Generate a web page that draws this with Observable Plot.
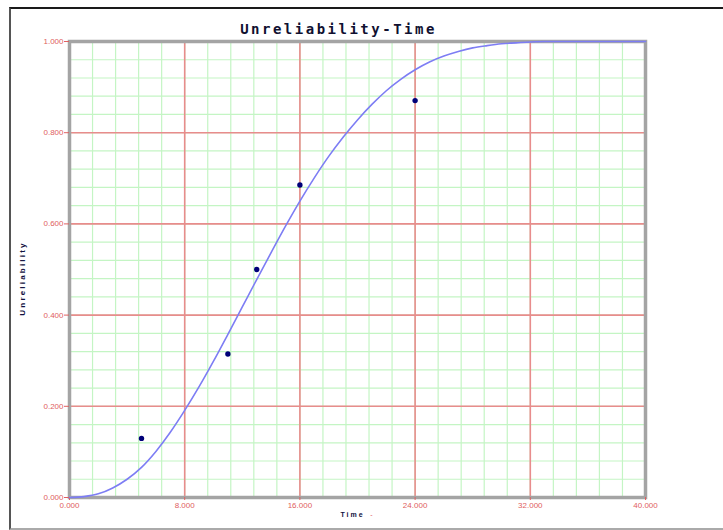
<!DOCTYPE html>
<html>
<head>
<meta charset="utf-8">
<script src="https://cdn.jsdelivr.net/npm/d3@7"></script>
<script src="https://cdn.jsdelivr.net/npm/@observablehq/plot@0.6"></script>
<style>
  html, body { margin: 0; padding: 0; background: #fff; }
  #wrap { position: relative; width: 723px; height: 530px; }
  #outer { position: absolute; left: 9px; top: 7px; right: 0; height: 519px;
           border-top: 2px solid #1a1a1a; border-left: 2px solid #555; border-bottom: 2px solid #aaa; pointer-events: none; }
</style>
</head>
<body>
<div id="wrap"><div id="outer"></div></div>
<script>
// Observed failure points (time, median-rank unreliability)
const pointTime = [5, 11, 13, 16, 24];
const pointUnrel = [0.1296, 0.3148, 0.5, 0.6852, 0.8704];

// Fitted unreliability curve
const curveTime = [0, 1, 2, 3, 4, 5, 6, 7, 8, 9, 10, 11, 12, 13, 14, 15, 16, 17, 18, 19, 20, 21, 22, 23, 24, 25, 26, 27, 28, 29, 30, 31, 32, 33, 34, 40];
const curveUnrel = [0, 0.002, 0.008, 0.021, 0.040, 0.066, 0.101, 0.143, 0.191, 0.243, 0.299, 0.358, 0.418, 0.478, 0.537, 0.595, 0.650, 0.701, 0.748, 0.790, 0.828, 0.862, 0.892, 0.917, 0.938, 0.955, 0.968, 0.978, 0.986, 0.991, 0.995, 0.997, 0.999, 1.0, 1.0, 1.0];

// Axis ticks
const xMajor = [0, 8, 16, 24, 32, 40];
const yMajor = [0, 0.2, 0.4, 0.6, 0.8, 1.0];
const xMinor = d3.range(0, 40.001, 1.6);
const yMinor = d3.range(0, 1.0001, 0.04);

const points = pointTime.map((t, i) => ({t, u: pointUnrel[i]}));
const curve = curveTime.map((t, i) => ({t, u: curveUnrel[i]}));

const red = "#e06060";
const fmt = d3.format(".3f");

const chart = Plot.plot({
  width: 723,
  height: 530,
  marginLeft: 69,
  marginRight: 78,
  marginTop: 41,
  marginBottom: 33,
  style: {fontFamily: "Liberation Sans, sans-serif", background: "transparent"},
  x: {domain: [0, 40]},
  y: {domain: [0, 1]},
  marks: [
    Plot.ruleX(xMinor, {stroke: "#c4f5c4", strokeWidth: 1.2}),
    Plot.ruleY(yMinor, {stroke: "#c4f5c4", strokeWidth: 1.2}),
    Plot.ruleX(xMajor, {stroke: "#e88c8c", strokeWidth: 1.6}),
    Plot.ruleY(yMajor, {stroke: "#e88c8c", strokeWidth: 1.6}),
    Plot.frame({stroke: "#a4a4a4", strokeWidth: 3.5}),
    Plot.axisX({ticks: xMajor, tickFormat: fmt, tickSize: 3, tickPadding: 2, color: red, fontSize: 8, label: null}),
    Plot.axisY({ticks: yMajor, tickFormat: fmt, tickSize: 5, tickPadding: 1, color: red, fontSize: 8, label: null}),
    Plot.line(curve, {x: "t", y: "u", stroke: "#7d7df4", strokeWidth: 1.6, curve: "monotone-x"}),
    Plot.dot(points, {x: "t", y: "u", r: 2.7, fill: "#000078"}),
    Plot.text(["Unreliability-Time"], {frameAnchor: "top", dy: -17, dx: -19, fontSize: 14, fontWeight: "bold",
      fontFamily: "DejaVu Sans Mono, monospace", fill: "#101030"}),
    Plot.text(["Unreliability"], {frameAnchor: "left", textAnchor: "middle", rotate: -90, dx: -47, dy: 9, fontSize: 8, fontWeight: "bold",
      fill: "#101040"}),
    Plot.text(["Time"], {frameAnchor: "bottom", dy: 19, dx: -5, fontSize: 7, fontWeight: "bold", fill: "#101040"}),
    Plot.text(["-"], {frameAnchor: "bottom", dy: 19, dx: 14, fontSize: 7, fill: red})
  ]
});
// letter spacing for the wide bitmap-style labels
d3.select(chart).selectAll("text").each(function () {
  const s = this.textContent;
  if (s === "Unreliability-Time") this.setAttribute("letter-spacing", "2.5px");
  if (s === "Unreliability") this.setAttribute("letter-spacing", "2.2px");
  if (s === "Time") this.setAttribute("letter-spacing", "2px");
});
document.getElementById("wrap").prepend(chart);
</script>
</body>
</html>
